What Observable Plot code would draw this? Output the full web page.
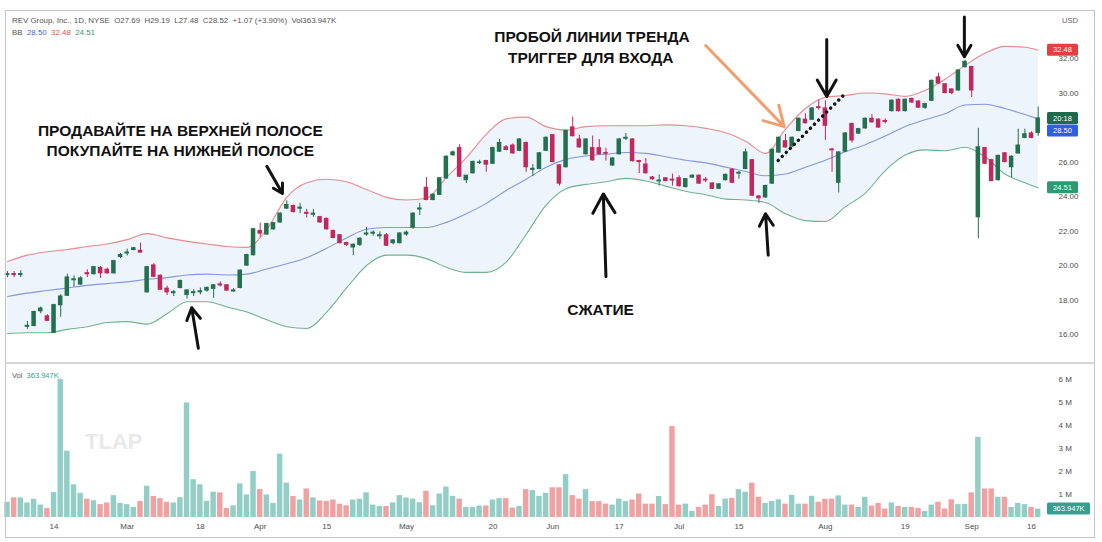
<!DOCTYPE html>
<html><head><meta charset="utf-8">
<script src="https://cdn.jsdelivr.net/npm/d3@7"></script>
<script src="https://cdn.jsdelivr.net/npm/@observablehq/plot@0.6"></script>
<style>
html,body{margin:0;padding:0;background:#fff;}
#wrap{position:relative;width:1102px;height:542px;overflow:hidden;background:#fff;}
#wrap svg{position:absolute;left:0;display:block;}
.frame{position:absolute;left:5px;top:10px;width:1088px;height:526px;border:1px solid #c4c4c4;pointer-events:none;}
.sep{position:absolute;left:5px;top:362px;width:1090px;height:2px;background:#d4d4d4;}
</style></head><body><div id="wrap"></div>
<script>
// ---- candles (index 0..155) ----
const open = [19.45,19.5,19.45,16.45,16.5,17.35,17.05,16.1,17.7,18.25, 19.15,18.9,19.55,19.5,19.85,19.75,19.55,20.5,20.7,20.9, 20.85,18.45,20.0,19.4,18.65,18.4,18.7,18.3,18.4,18.45, 18.55,18.65,18.9,18.85,18.5,18.7,20.0,20.6,22.0,21.8, 22.1,22.5,23.3,23.45,23.3,23.05,22.95,22.8,22.7,22.0, 21.75,21.3,21.05,21.2,21.8,21.85,21.7,21.75,21.3,21.3, 21.8,22.2,23.25,24.5,23.8,24.1,25.05,26.4,26.8,24.95, 25.35,25.95,26.05,25.9,26.6,26.85,26.95,26.65,27.1,25.55, 25.6,26.65,27.55,25.8,25.7,28.0,27.3,26.45,26.8,26.8, 26.52,25.8,26.45,27.35,27.3,26.05,25.85,25.1,24.88,25.05, 24.97,25.05,24.55,25.1,25.2,24.97,24.75,24.45,24.95,25.55, 25.33,25.6,26.1,24.0,23.95,24.75,26.55,27.2,26.9,27.8, 28.45,28.45,29.17,29.1,26.72,24.8,26.6,28.2,27.65,27.95, 28.5,28.45,28.37,28.95,29.6,28.95,29.65,29.5,29.15,29.55, 30.9,30.5,30.2,30.15,31.5,31.5,22.8,26.8,26.1,24.95, 26.5,25.7,26.5,27.4,27.65,27.69];
const high = [19.65,19.65,19.7,16.75,17.35,17.6,17.15,17.75,18.3,19.5, 19.4,19.35,19.75,19.95,19.95,19.85,20.3,20.7,20.95,21.05, 21.3,19.95,20.1,19.45,18.8,18.55,19.15,18.6,18.6,18.7, 18.75,18.9,19.05,18.9,18.65,19.75,20.65,22.15,22.45,22.45, 22.5,23.05,23.75,23.5,23.6,23.25,23.25,22.85,22.75,22.05, 21.8,21.35,21.25,21.6,22.2,22.0,21.95,21.85,21.5,21.9, 22.0,23.05,23.6,25.1,24.15,25.1,26.35,26.65,27.0,25.2, 26.05,26.1,26.1,26.85,27.3,26.95,27.05,27.35,27.15,25.85, 26.55,27.45,27.6,25.85,27.85,28.6,27.55,27.35,27.5,27.3, 26.8,26.25,27.35,27.65,27.35,26.1,26.2,25.15,25.25,25.1, 25.3,25.2,25.05,25.25,25.25,25.1,24.8,24.75,25.3,25.6, 25.45,26.75,26.15,24.05,24.65,26.75,27.45,27.6,27.45,28.55, 28.8,29.15,29.6,29.55,26.8,26.6,27.7,28.25,27.95,28.55, 28.75,28.5,28.5,29.6,29.65,29.65,29.7,29.55,29.4,30.75, 31.15,30.55,30.25,31.35,31.9,31.55,27.95,26.85,26.15,26.4, 26.55,26.35,27.9,27.9,27.75,29.19];
const low = [19.3,19.3,19.3,16.3,16.45,17.2,16.75,16.05,17.0,18.2, 18.75,18.85,19.3,19.45,19.25,19.5,19.5,20.4,20.55,20.85, 20.75,18.4,19.3,18.55,18.26,18.2,18.65,18.05,18.2,18.3, 18.45,18.1,18.75,18.5,18.45,18.65,19.95,20.55,21.6,21.75, 22.05,22.45,23.25,23.05,23.0,22.75,22.8,22.45,22.05,21.55, 21.25,21.1,20.58,21.1,21.7,21.7,21.5,21.1,21.2,21.25, 21.7,22.1,22.9,23.75,23.75,24.05,25.0,26.3,25.1,24.75, 25.3,25.85,25.4,25.85,26.55,26.65,26.45,26.6,25.4,25.15, 25.55,26.6,25.95,24.6,25.65,27.45,26.8,26.4,26.05,26.4, 26.05,25.75,26.4,27.25,26.0,25.33,25.3,24.95,24.6,24.85, 24.6,24.55,24.5,25.05,24.7,24.8,24.4,24.4,24.9,24.75, 25.0,25.55,24.0,23.6,23.9,24.7,26.5,26.8,26.85,27.75, 28.2,28.4,29.0,27.25,25.4,24.2,26.55,27.1,27.6,27.9, 28.25,27.95,28.2,28.9,28.9,28.9,29.4,29.1,29.05,29.5, 30.5,29.95,29.9,30.1,31.45,29.74,21.55,25.85,24.85,24.9, 25.95,25.1,26.45,27.35,27.35,27.48];
const close = [19.5,19.45,19.5,16.5,17.3,17.5,16.8,17.7,18.2,19.3, 19.2,19.25,19.5,19.9,19.55,19.55,20.25,20.6,20.75,21.0, 20.75,19.9,19.35,18.6,18.45,18.45,19.1,18.55,18.45,18.5, 18.7,18.85,18.85,18.55,18.55,19.7,20.6,22.1,21.85,22.4, 22.45,23.0,23.5,23.1,23.35,23.0,23.0,22.5,22.1,21.6, 21.3,21.2,21.2,21.55,21.85,21.9,21.75,21.15,21.45,21.85, 21.9,23.0,23.3,23.8,24.1,25.05,26.3,26.55,25.15,25.2, 26.0,25.97,25.85,26.8,27.1,26.7,26.5,27.3,25.7,25.6, 26.5,27.4,26.0,24.75,27.8,27.5,26.85,27.3,26.1,26.45, 26.48,26.2,27.3,27.4,26.05,26.0,25.35,25.0,24.92,24.9, 24.93,24.6,25.0,25.2,24.75,24.93,24.45,24.7,25.25,24.8, 25.37,26.55,24.05,23.9,24.6,26.7,27.4,26.85,27.4,28.5, 28.25,29.1,29.13,28.1,26.68,26.55,27.65,27.25,27.9,28.5, 28.3,28.0,28.33,29.55,28.95,29.6,29.45,29.15,29.35,30.7, 30.55,30.0,30.0,31.3,31.8,30.15,26.85,25.9,24.9,26.35, 26.0,26.3,26.95,27.6,27.4,28.52];
// volume in millions
const volume = [0.66,0.85,0.85,0.63,0.79,0.54,0.39,1.08,6.0,2.88, 1.42,1.05,0.80,0.73,0.56,0.63,0.95,0.61,0.56,0.44, 0.70,1.36,0.91,0.82,0.66,0.63,0.86,4.97,1.64,1.42, 0.70,1.10,1.07,0.39,0.51,1.46,0.98,2.0,1.21,0.98, 0.61,2.75,1.49,0.91,0.76,1.24,0.85,0.72,0.70,0.76, 0.58,0.51,0.76,0.79,1.07,0.54,0.48,0.48,0.63,0.95, 0.85,0.80,0.64,1.14,0.51,1.02,1.32,0.92,0.80,0.44, 0.44,0.50,0.50,0.76,0.82,0.82,0.41,0.48,1.21,1.17, 0.92,1.05,1.29,1.29,1.86,0.95,0.80,1.21,0.69,0.69, 0.58,0.54,0.80,0.69,0.76,1.02,0.58,0.58,0.91,0.56, 3.95,0.54,0.58,0.26,0.44,0.54,0.99,0.48,0.80,0.83, 1.21,1.10,1.49,0.88,0.61,0.70,0.77,0.58,0.96,0.58, 0.58,0.92,0.66,0.79,0.80,0.94,0.54,0.54,0.44,0.88, 0.50,0.61,0.37,0.63,0.48,0.44,0.44,0.39,0.26,0.54, 0.66,0.37,0.77,0.56,0.57,1.07,3.48,1.24,1.24,0.88, 0.88,0.44,0.61,0.56,0.44,0.364];
// ---- Bollinger bands ----
const bandIdx = [0,3,6,9,12,15,18,21,24,27, 30,33,36,39,42,45,48,51,54,57, 60,63,66,69,72,75,78,81,84,87, 90,93,96,99,102,105,108,111,114,117, 120,123,126,129,132,135,138,141,144,147, 150,153,155];
const upperBand = [20.23,20.6,20.8,20.93,21.1,21.25,21.5,21.85,21.6,21.4, 21.25,21.1,21.05,22.1,23.95,24.8,25.0,24.85,24.4,23.95, 23.8,23.9,25.1,26.25,27.6,28.5,28.6,28.05,27.85,28.05, 28.1,28.1,28.1,28.15,28.1,27.95,27.7,27.2,26.5,27.9, 29.1,29.75,29.85,30.0,29.95,29.8,30.15,30.8,31.6,32.3, 32.7,32.65,32.48];
const middleBand = [18.2,18.4,18.55,18.7,18.85,18.95,19.05,19.2,19.3,19.45, 19.5,19.45,19.5,19.8,20.1,20.45,21.0,21.6,22.1,22.2, 22.2,22.2,22.5,23.0,23.6,24.35,25.0,25.7,26.15,26.35, 26.45,26.55,26.5,26.3,26.1,25.95,25.7,25.45,25.2,25.3, 25.7,26.1,26.6,27.0,27.5,28.05,28.45,28.8,29.3,29.35, 29.1,28.75,28.5];
const lowerBand = [16.06,16.1,16.1,16.3,16.45,16.7,16.75,16.6,17.2,17.9, 17.9,17.6,17.3,16.85,16.45,16.35,17.3,18.7,20.0,20.6, 20.6,20.4,19.9,19.6,19.6,20.2,21.8,23.5,24.45,24.7, 24.85,25.05,24.9,24.6,24.3,24.1,23.85,23.8,23.65,23.0, 22.6,22.55,23.4,24.2,25.5,26.4,26.7,26.65,26.85,26.3, 25.3,24.8,24.51];
// ---- axes ----
const tickIdx = [7,18,29,38,48,60,73,82,92,101,110,123,135,145,154];
const tickLabels = ["14","Mar","18","Apr","15","May","20","Jun","17","Jul","15","Aug","19","Sep","16"];
const priceTicks = [16,18,20,22,24,26,30,32];
const volTicks = [1,2,3,4,5,6];
// ---- annotations (bar index, price) ----
const notes = [
  {text:"ПРОДАВАЙТЕ НА ВЕРХНЕЙ ПОЛОСЕ", i:26.0, p:27.77},
  {text:"ПОКУПАЙТЕ НА НИЖНЕЙ ПОЛОСЕ", i:26.0, p:26.61},
  {text:"ПРОБОЙ ЛИНИИ ТРЕНДА", i:87.9, p:33.22},
  {text:"ТРИГГЕР ДЛЯ ВХОДА", i:87.7, p:32.03},
  {text:"СЖАТИЕ", i:89.2, p:17.42}
];
const blackArrows = [
  {i1:39.0, p1:25.75, i2:41.35, p2:24.17},
  {i1:28.7, p1:15.2, i2:27.7, p2:17.55},
  {i1:90.0, p1:19.35, i2:89.6, p2:24.15},
  {i1:114.4, p1:20.6, i2:114.0, p2:23.0},
  {i1:123.2, p1:33.1, i2:123.2, p2:29.8},
  {i1:143.9, p1:34.4, i2:143.9, p2:32.1}
];
const orangeArrow = [{i1:105.0, p1:32.75, i2:116.8, p2:28.05}];
const trendLine = [{i:115.9, p:26.09},{i:125.7, p:29.86}];

const candles = open.map((o,i)=>({i, open:o, high:high[i], low:low[i], close:close[i], vol:volume[i]}));
const bands = bandIdx.map((i,k)=>({i, upper:upperBand[k], middle:middleBand[k], lower:lowerBand[k]}));

const UP = "#22704e", DN = "#c2285c";
const VUP = "#92cec6", VDN = "#f0a2a2";
const xDomain = [-0.15, 156.1];
const FONT = "'Liberation Sans', Arial, sans-serif";

const pricePlot = Plot.plot({
  width:1102, height:363, marginLeft:6, marginRight:57, marginTop:5, marginBottom:0,
  style:{fontFamily:FONT, fontSize:"8px", color:"#4d4d4d", background:"#fff", overflow:"visible"},
  x:{domain:xDomain, axis:null},
  y:{domain:[14.32,35.07], axis:"right", ticks:priceTicks, tickFormat:d=>d.toFixed(2), tickSize:0, tickPadding:13, label:null},
  marks:[
    Plot.areaY(bands,{x:"i", y1:"lower", y2:"upper", fill:"#edf4fb", curve:"monotone-x"}),
    Plot.lineY(bands,{x:"i", y:"upper", stroke:"#e98c8c", strokeWidth:1.1, curve:"monotone-x"}),
    Plot.lineY(bands,{x:"i", y:"middle", stroke:"#8598dc", strokeWidth:1.1, curve:"monotone-x"}),
    Plot.lineY(bands,{x:"i", y:"lower", stroke:"#6cb38d", strokeWidth:1.1, curve:"monotone-x"}),
    Plot.ruleX(candles,{x:"i", y1:"low", y2:"high", stroke:d=>d.close>=d.open?UP:DN, strokeWidth:1}),
    Plot.rect(candles,{x1:d=>d.i-0.34, x2:d=>d.i+0.34, y1:"open", y2:"close", fill:d=>d.close>=d.open?UP:DN, insetTop:-0.6, insetBottom:-0.6}),
    Plot.line(trendLine,{x:"i", y:"p", stroke:"#111", strokeWidth:3.4, strokeDasharray:"0.1,5.6", strokeLinecap:"round"}),
    Plot.arrow(orangeArrow,{x1:"i1", y1:"p1", x2:"i2", y2:"p2", stroke:"#f0a06e", strokeWidth:3, headLength:11}),
    Plot.arrow(blackArrows,{x1:"i1", y1:"p1", x2:"i2", y2:"p2", stroke:"#111", strokeWidth:3, headLength:11}),
    Plot.text(notes,{x:"i", y:"p", text:"text", fontSize:15.5, fontWeight:"bold", fill:"#111", fontFamily:FONT})
  ]
});

const volPlot = Plot.plot({
  width:1102, height:179, marginLeft:6, marginRight:57, marginTop:2, marginBottom:25,
  style:{fontFamily:FONT, fontSize:"8px", color:"#4d4d4d", background:"#fff", overflow:"visible"},
  x:{domain:xDomain, ticks:tickIdx, tickFormat:d=>tickLabels[tickIdx.indexOf(d)], tickSize:0, tickPadding:6, label:null},
  y:{domain:[0,6.6], axis:"right", ticks:volTicks, tickFormat:d=>d+" M", tickSize:0, tickPadding:13, label:null},
  marks:[
    Plot.rect(candles,{x1:d=>d.i-0.41, x2:d=>d.i+0.41, y1:0, y2:"vol", fill:d=>d.close>=d.open?VUP:VDN})
  ]
});

const wrap = document.getElementById("wrap");
pricePlot.style.top = "0px";
volPlot.style.top = "363px";
wrap.appendChild(pricePlot);
wrap.appendChild(volPlot);

function scaleFn(plot, name){
  const s = plot.scale(name);
  return s.apply ? (v=>s.apply(v)) : d3.scaleLinear(s.domain, s.range);
}
const yP = scaleFn(pricePlot, "y");
const yV = scaleFn(volPlot, "y");
const sp = d3.select(pricePlot), sv = d3.select(volPlot);

function badge(sel, y, w, fill, text){
  const g = sel.append("g");
  g.append("rect").attr("x",1047).attr("y",y-6).attr("width",w).attr("height",12).attr("rx",1.5).attr("fill",fill);
  g.append("text").attr("x",1047+w/2).attr("y",y).attr("dy","0.35em").attr("text-anchor","middle")
    .attr("fill","#fff").attr("font-size",7.5).attr("font-family",FONT).text(text);
}
badge(sp, yP(32.48), 31, "#e2413f", "32.48");
badge(sp, yP(28.52), 31, "#1f6a4a", "20:18");
badge(sp, yP(28.52)+12.5, 31, "#2d5ee6", "28.50");
badge(sp, yP(24.51), 31, "#2c9a72", "24.51");
badge(sv, yV(volume[volume.length-1]), 43, "#35a08e", "363.947K");

// header texts
sp.append("text").attr("x",1070).attr("y",20).attr("dy","0.35em").attr("text-anchor","middle")
  .attr("font-size",7.5).attr("fill","#666").attr("font-family",FONT).text("USD");
const h1 = sp.append("text").attr("x",12).attr("y",20).attr("dy","0.35em").attr("text-anchor","start")
  .attr("font-size",7.9).attr("fill","#555").attr("font-family",FONT);
h1.text("REV Group, Inc., 1D, NYSE\u00a0\u00a0O27.69\u00a0\u00a0H29.19\u00a0\u00a0L27.48\u00a0\u00a0C28.52\u00a0\u00a0+1.07 (+3.90%)\u00a0\u00a0Vol363.947K");
const h2 = sp.append("text").attr("x",12).attr("y",32).attr("dy","0.35em").attr("text-anchor","start")
  .attr("font-size",7.9).attr("font-family",FONT);
h2.append("tspan").attr("fill","#555").text("BB\u00a0\u00a0");
h2.append("tspan").attr("fill","#3f63e0").text("28.50\u00a0\u00a0");
h2.append("tspan").attr("fill","#e0504e").text("32.48\u00a0\u00a0");
h2.append("tspan").attr("fill","#2c9a72").text("24.51");

const v1 = sv.append("text").attr("x",12).attr("y",12).attr("dy","0.35em").attr("text-anchor","start")
  .attr("font-size",7.5).attr("font-family",FONT);
v1.append("tspan").attr("fill","#555").text("Vol\u00a0\u00a0");
v1.append("tspan").attr("fill","#35a08e").text("363.947K");
sv.append("text").attr("x",85).attr("y",78).attr("dy","0.35em").attr("text-anchor","start")
  .attr("font-size",22).attr("font-weight","bold")
  .attr("fill","#e9e9e9").attr("font-family",FONT).text("TLAP");

const fr = document.createElement("div"); fr.className = "frame"; wrap.appendChild(fr);
const sep = document.createElement("div"); sep.className = "sep"; wrap.appendChild(sep);
</script></body></html>
